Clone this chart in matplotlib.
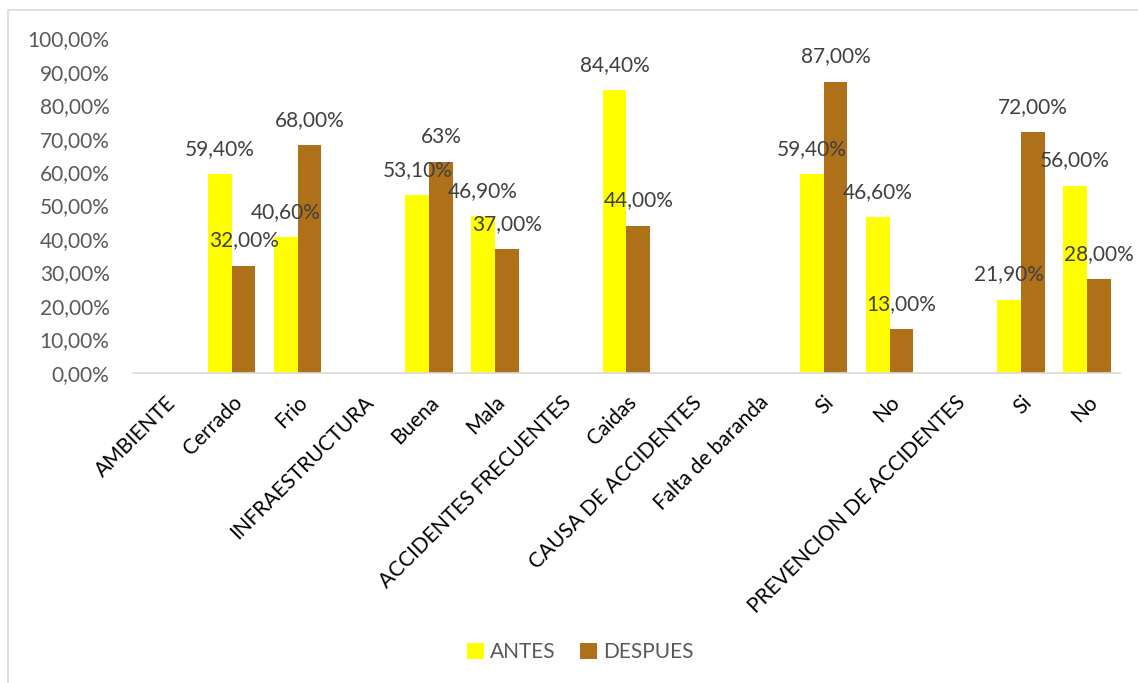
import numpy as np
import matplotlib.pyplot as plt
from matplotlib.patches import Rectangle

# Categories along the x axis
categories = ['AMBIENTE', 'Cerrado', 'Frio', 'INFRAESTRUCTURA', 'Buena', 'Mala',
              'ACCIDENTES FRECUENTES', 'Caidas', 'CAUSA DE ACCIDENTES', 'Falta de baranda',
              'Si', 'No', 'PREVENCION DE ACCIDENTES', 'Si', 'No']

# Series values (fractions), nan = no bar
antes = [np.nan, 0.594, 0.406, np.nan, 0.531, 0.469, np.nan, 0.844, np.nan, np.nan,
         0.594, 0.466, np.nan, 0.219, 0.56]
despues = [np.nan, 0.32, 0.68, np.nan, 0.63, 0.37, np.nan, 0.44, np.nan, np.nan,
           0.87, 0.13, np.nan, 0.72, 0.28]

# Data label texts as shown on the chart
antes_labels = ['', '59,40%', '40,60%', '', '53,10%', '46,90%', '', '84,40%', '', '',
                '59,40%', '46,60%', '', '21,90%', '56,00%']
despues_labels = ['', '32,00%', '68,00%', '', '63%', '37,00%', '', '44,00%', '', '',
                  '87,00%', '13,00%', '', '72,00%', '28,00%']

y_ticks = [i / 10 for i in range(11)]
y_tick_labels = ['0,00%', '10,00%', '20,00%', '30,00%', '40,00%', '50,00%',
                 '60,00%', '70,00%', '80,00%', '90,00%', '100,00%']

YELLOW = '#FFFF00'
BROWN = '#AE711A'
GREY_TXT = '#595959'
LABEL_TXT = '#404040'

plt.rcParams['font.family'] = ['Lato', 'DejaVu Sans']

fig = plt.figure(figsize=(11.38, 6.83), dpi=100)
ax = fig.add_axes([0.117, 0.454, 0.867, 0.49])

x = np.arange(len(categories))
w = 0.36
bars_a = ax.bar(x - w / 2, antes, width=w, color=YELLOW, label='ANTES')
bars_d = ax.bar(x + w / 2, despues, width=w, color=BROWN, label='DESPUES')

# Data labels above each bar
for xs, vals, labs in [(x - w / 2, antes, antes_labels), (x + w / 2, despues, despues_labels)]:
    for xi, v, t in zip(xs, vals, labs):
        if np.isnan(v):
            continue
        ax.annotate(t, (xi, v), xytext=(0, 11), textcoords='offset points',
                    ha='center', va='bottom', fontsize=15, color=LABEL_TXT)

ax.set_xlim(-0.5, len(categories) - 0.5)
ax.set_ylim(0, 1.0)
ax.set_yticks(y_ticks)
ax.set_yticklabels(y_tick_labels, fontsize=15, color=GREY_TXT)
ax.set_xticks(x)
ax.set_xticklabels(categories, rotation=45, ha='right', rotation_mode='anchor',
                   fontsize=15, color='black')
ax.tick_params(axis='both', length=0)
ax.tick_params(axis='x', pad=14)
ax.tick_params(axis='y', pad=17)

for s in ['top', 'right', 'left']:
    ax.spines[s].set_visible(False)
ax.spines['bottom'].set_color('#d9d9d9')
ax.spines['bottom'].set_linewidth(1.2)

fig.legend(handles=[bars_a, bars_d], labels=['ANTES', 'DESPUES'], loc='center',
           bbox_to_anchor=(0.51, 0.045), ncol=2, frameon=False, fontsize=15,
           labelcolor=GREY_TXT, handlelength=0.8, handleheight=0.8,
           handletextpad=0.3, columnspacing=1.2)

# Light chart border
fig.patches.append(Rectangle((8 / 1138, -0.05), 1.2, 1 - 10 / 683 + 0.05,
                             transform=fig.transFigure, fill=False,
                             edgecolor='#d9d9d9', linewidth=1.2))

plt.savefig('out.png')
plt.close()
